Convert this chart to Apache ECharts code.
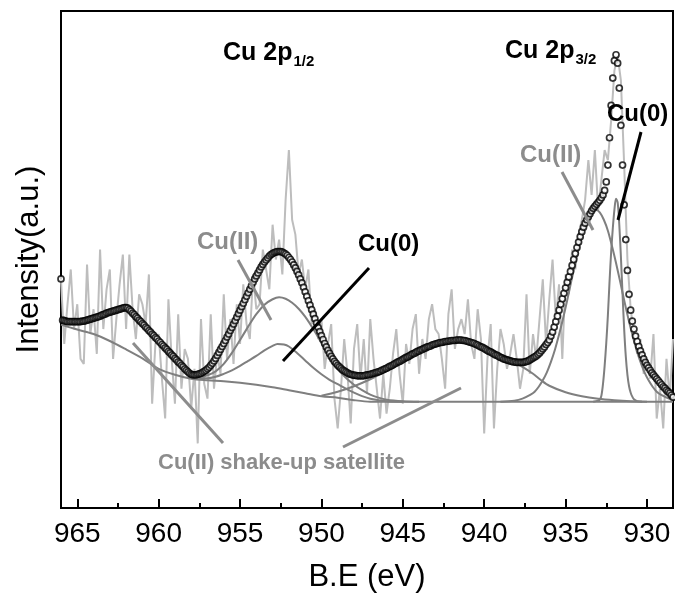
<!DOCTYPE html>
<html><head><meta charset="utf-8">
<script src="https://cdn.jsdelivr.net/npm/echarts@6/dist/echarts.min.js"></script>
<style>html,body{margin:0;padding:0;background:#fff}#c{width:675px;height:602px}</style>
</head><body><div id="c"></div>
<script>
// ---------- axis ticks ----------
const xMajorTicks = [930, 935, 940, 945, 950, 955, 960, 965];
const xMinorTicks = [932.5, 937.5, 942.5, 947.5, 952.5, 957.5, 962.5];

// ---------- raw spectrum (B.E. from 966.0 down, 0.2 eV step) ----------
const rawStart = 966.0, rawStep = 0.2;
const rawIntensity = [
  46,33,41,48,36,41, 30,29,49,35,40, 31,52,36,44,48, 30,38,45,51,36,
  51,40,34,43,41, 37,47,21,33,35, 26,18,42,30,21, 39,24,32,30,20,
  28,13,38,25,22, 39,24,
  31,27,43,30,38,29,41,33, 45,37,34,47,40,41,52,48,44,57,
  50,54,47,62,72,58,55,47,50,44, 48,37,40,34,38,28,33,37,22,16,
  24,34,27,17,32,37,26,34,23,38,
  30,24,18,27,19,24,31,36,27,21, 33,29,36,39,27,34,30,38,41,36,
  35,30,24,39,44,32,36,38,35,42, 33,30,40,34,15,30,37,16,28,36,
  33,28,31,35,30,24,
  28,43,27,35,30,38,46,33,42, 50,38,45,30,47, 43,52,48,55,58,
  62,70,63,72,60, 66,72,70,78,88, 91,86,69,50,40, 35,31,34,27,30,
  26,35,18,24,16, 30,22,34
];

// ---------- fitted envelope (B.E. from 966.0 down, 0.1 eV step) ----------
const fitStart = 966.0, fitStep = 0.1;
const fitEnvelope = [
  46.1,37.8,37.7,37.6,37.5,37.5,37.5,37.5,37.5,37.5,
  37.5,37.5,37.5,37.6,37.6,37.7,37.8,37.9,38.0,38.1,
  38.2,38.3,38.4,38.5,38.6,38.8,38.9,39.0,39.2,39.3,
  39.4,39.5,39.6,39.7,39.8,39.9,40.0,40.1,40.2,40.3,
  40.3,40.2,39.9,39.6,39.2,38.9,38.5,38.2,37.8,37.5,
  37.1,36.8,36.4,36.1,35.7,35.4,35.0,34.7,34.3,34.0,
  33.6,33.3,32.9,32.6,32.2,31.9,31.5,31.2,30.8,30.5,
  30.1,29.8,29.4,29.1,28.7,28.4,28.0,27.7,27.4,27.1,
  26.9,26.8,26.8,26.8,26.9,27.0,27.1,27.3,27.5,27.7,
  28.0,28.3,28.7,29.1,29.6,30.1,30.7,31.3,31.9,32.5,
  33.1,33.7,34.4,35.0,35.7,36.3,37.0,37.7,38.4,39.1,
  39.8,40.5,41.2,41.9,42.6,43.3,44.0,44.7,45.4,46.1,
  46.7,47.3,47.9,48.5,49.0,49.5,49.9,50.3,50.7,51.0,
  51.2,51.4,51.5,51.6,51.6,51.6,51.5,51.3,51.1,50.8,
  50.4,50.0,49.5,48.9,48.3,47.6,46.9,46.1,45.3,44.4,
  43.5,42.6,41.7,40.8,39.9,39.0,38.1,37.2,36.3,35.5,
  34.7,33.9,33.1,32.4,31.7,31.1,30.5,30.0,29.5,29.1,
  28.7,28.4,28.1,27.8,27.6,27.4,27.2,27.0,26.9,26.8,
  26.7,26.7,26.6,26.6,26.6,26.6,26.6,26.7,26.8,26.8,
  26.9,27.0,27.1,27.2,27.3,27.4,27.5,27.7,27.8,28.0,
  28.1,28.3,28.5,28.6,28.8,29.0,29.2,29.4,29.5,29.7,
  29.9,30.1,30.3,30.4,30.6,30.8,31.0,31.1,31.3,31.5,
  31.6,31.8,31.9,32.1,32.2,32.4,32.5,32.6,32.8,32.9,
  33.0,33.1,33.2,33.3,33.3,33.4,33.5,33.5,33.6,33.6,
  33.7,33.7,33.7,33.8,33.8,33.8,33.8,33.7,33.7,33.6,
  33.5,33.4,33.3,33.2,33.1,32.9,32.8,32.6,32.4,32.3,
  32.1,31.9,31.7,31.5,31.4,31.2,31.0,30.8,30.7,30.5,
  30.3,30.2,30.0,29.9,29.8,29.7,29.6,29.5,29.4,29.4,
  29.3,29.3,29.3,29.3,29.3,29.4,29.5,29.6,29.8,30.0,
  30.2,30.4,30.6,30.9,31.2,31.6,32.0,32.4,32.9,33.3,
  33.8,34.6,35.4,36.4,37.5,38.6,39.8,41.0,42.1,43.2,
  44.3,45.4,46.5,47.6,48.8,50.0,51.2,52.4,53.5,54.6,
  55.6,56.5,57.3,58.0,58.6,59.2,59.8,60.3,60.7,61.1,
  61.5,61.9,62.4,63.0,63.9,65.6,69.0,74.5,81.0,86.5,
  90.0,91.2,89.5,84.5,77.0,69.0,61.0,54.0,47.8,43.0,
  39.8,37.6,36.0,34.6,33.5,32.5,31.6,30.8,30.0,29.3,
  28.7,28.2,27.7,27.2,26.8,26.4,26.0,25.6,25.2,24.8,
  24.4,24.1,23.7,23.4,23.1,22.7,22.3
];

// ---------- fit components ----------
const bgBE  = [966.0,965.0,964.0,963.0,962.0,961.0,960.0,959.0,958.0,957.0,956.0,955.0,954.0,953.0,952.0,951.0,950.0,949.0,948.0,947.0,946.0,940.0,935.0,930.0,928.4];
const bgVal = [36.9,35.9,35.0,33.6,31.9,30.1,28.0,26.8,26.0,25.7,25.5,25.2,24.8,24.3,23.7,23.1,22.5,22.2,21.7,21.4,21.4,21.4,21.4,21.4,21.4];

const cu2p12IIBE  = [958.0,957.5,957.0,956.5,956.0,955.5,955.0,954.5,954.0,953.5,953.0,952.6,952.2,951.8,951.4,951.0,950.5,950.0,949.5,949.0,948.5,948.0,947.5,947.0,946.5,946.0,945.0,944.0];
const cu2p12IIVal = [26.1,26.3,26.7,27.5,29.0,31.2,33.8,36.5,39.0,40.9,42.0,42.4,42.1,41.3,40.1,38.5,36.0,33.2,30.3,28.0,26.2,24.8,23.7,22.8,22.2,21.8,21.5,21.4];

const cu2p12_0BE  = [958.0,957.0,956.5,956.0,955.5,955.0,954.5,954.0,953.5,953.0,952.7,952.3,952.0,951.5,951.0,950.5,950.0,949.5,949.0,948.5,948.0,947.5,947.0,946.0,945.0];
const cu2p12_0Val = [26.1,26.1,26.4,27.0,27.7,28.6,29.6,30.6,31.7,32.6,33.0,32.9,32.5,31.2,29.7,28.2,26.9,25.8,24.9,24.0,23.2,22.5,22.0,21.5,21.4];

const satBE  = [950.0,949.0,948.0,947.0,946.0,945.0,944.0,943.0,942.0,941.5,941.0,940.0,939.0,938.0,937.5,937.0,936.5,936.0,935.0,934.0,933.0,932.0,931.0,930.0];
const satVal = [22.6,23.4,24.5,25.9,27.6,29.4,31.2,32.7,33.6,33.8,33.6,32.3,30.5,29.0,28.1,27.0,25.7,24.6,23.3,22.5,22.0,21.7,21.5,21.4];

const cu2p32IIBE  = [939.0,938.15,937.65,937.15,936.9,936.65,936.4,936.15,935.9,935.65,935.4,935.15,934.9,934.65,934.4,934.15,933.9,933.65,933.4,933.15,932.9,932.65,932.4,932.15,931.9,931.65,931.4,931.15,930.9,930.65,930.4,930.15,929.9,929.65,929.4,929.15,928.65,928.4];
const cu2p32IIVal = [21.4,21.6,22.0,22.8,23.4,24.4,25.7,27.3,29.4,31.9,34.9,38.2,41.8,45.6,49.3,52.7,55.8,58.0,59.5,60.0,59.5,58.0,55.8,52.7,49.3,45.6,41.8,38.2,34.9,31.9,29.4,27.3,25.7,24.4,23.4,22.8,22.0,21.8];

const cu2p32_0BE  = [933.3,933.0,932.9,932.8,932.7,932.6,932.5,932.4,932.3,932.2,932.1,932.0,931.9,931.8,931.7,931.6,931.5,931.4,931.3,931.2,931.1,931.0,930.9,930.8,930.6,930.3];
const cu2p32_0Val = [21.4,21.6,21.8,22.6,25.0,28.6,33.2,38.8,45.5,51.5,56.2,60.0,62.2,61.5,57.0,50.5,43.0,36.0,30.5,26.8,24.5,23.2,22.4,21.9,21.5,21.4];

// ---------- build ----------
const FONT = "'Liberation Sans', Arial, Helvetica, sans-serif";
const r1 = v => Math.round(v * 100) / 100;
const rawData = rawIntensity.map((v, i) => [r1(rawStart - i * rawStep), v]);
const fitData = fitEnvelope.map((v, i) => [r1(fitStart - i * fitStep), v]);
const zip = (a, b) => a.map((x, i) => [x, b[i]]);

const compStyle = { color: '#7f7f7f', width: 2 };
function comp(be, val) {
  return { type: 'line', data: zip(be, val), smooth: 0.3, showSymbol: false, silent: true,
           lineStyle: compStyle, z: 3 };
}

const chart = echarts.init(document.getElementById('c'), null, { renderer: 'canvas' });

const cv = document.createElement('canvas').getContext('2d');
function tw(text, size) { cv.font = 'bold ' + size + 'px ' + FONT; return cv.measureText(text).width; }

function txt(x, y, text, size, color) {
  return { type: 'text', x: x, y: y, z: 100,
           style: { text: text, fontSize: size, fontWeight: 'bold', fontFamily: FONT, fill: color,
                    align: 'left', verticalAlign: 'middle' } };
}
function seg(x1, y1, x2, y2, color) {
  return { type: 'line', z: 99, shape: { x1: x1, y1: y1, x2: x2, y2: y2 },
           style: { stroke: color, lineWidth: 3 } };
}
const GRAY = '#8c8c8c';
const graphics = [
  txt(223, 53, 'Cu 2p', 25, '#000'),
  txt(223 + tw('Cu 2p', 25) + 1, 62, '1/2', 15, '#000'),
  txt(505, 51, 'Cu 2p', 25, '#000'),
  txt(505 + tw('Cu 2p', 25) + 1, 60, '3/2', 15, '#000'),
  txt(607, 114, 'Cu(0)', 24, '#000'),
  txt(520, 155, 'Cu(II)', 24, GRAY),
  txt(197, 242, 'Cu(II)', 24, GRAY),
  txt(358, 244, 'Cu(0)', 24, '#000'),
  txt(158, 463, 'Cu(II) shake-up satellite', 22, GRAY),
  seg(562, 172, 593, 230, GRAY),
  seg(641, 132, 618, 220, '#000'),
  seg(238, 260, 271, 320, GRAY),
  seg(369, 268, 283, 361, '#000'),
  seg(133, 343, 223, 443, GRAY),
  seg(343, 447, 461, 388, GRAY)
];

const option = {
  animation: false,
  backgroundColor: '#fff',
  grid: { left: 61, right: 2, top: 11, bottom: 94, show: true, borderColor: '#000', borderWidth: 2,
          backgroundColor: 'transparent' },
  xAxis: [{
    type: 'value', min: 928.4, max: 966, inverse: true,
    axisLine: { show: true, lineStyle: { color: '#000', width: 2 } },
    axisTick: { show: true, inside: true, length: 9, lineStyle: { color: '#000', width: 2 }, customValues: xMajorTicks },
    axisLabel: { customValues: xMajorTicks, fontSize: 28, color: '#000', margin: 12, fontFamily: FONT },
    splitLine: { show: false },
    name: 'B.E (eV)', nameLocation: 'middle', nameGap: 54,
    nameTextStyle: { fontSize: 31, color: '#000', fontFamily: FONT }
  }, {
    type: 'value', min: 928.4, max: 966, inverse: true, position: 'bottom', gridIndex: 0,
    axisLine: { show: false }, axisLabel: { show: false }, splitLine: { show: false },
    axisTick: { show: true, inside: true, length: 5, lineStyle: { color: '#000', width: 2 }, customValues: xMinorTicks }
  }],
  yAxis: {
    type: 'value', min: 0, max: 100,
    axisLine: { show: true, lineStyle: { color: '#000', width: 2 } },
    axisTick: { show: false }, axisLabel: { show: false }, splitLine: { show: false },
    name: 'Intensity(a.u.)', nameLocation: 'middle', nameGap: 16,
    nameTextStyle: { fontSize: 31, color: '#000', fontFamily: FONT }
  },
  series: [
    { type: 'line', data: rawData, showSymbol: false, silent: true,
      lineStyle: { color: '#bdbdbd', width: 2 }, z: 1 },
    comp(bgBE, bgVal),
    comp(cu2p12IIBE, cu2p12IIVal),
    comp(cu2p12_0BE, cu2p12_0Val),
    comp(satBE, satVal),
    comp(cu2p32IIBE, cu2p32IIVal),
    comp(cu2p32_0BE, cu2p32_0Val),
    { type: 'scatter', data: fitData, symbol: 'circle', symbolSize: 6, silent: true,
      itemStyle: { color: '#fff', borderColor: '#000', borderWidth: 1.7 }, z: 5 }
  ],
  graphic: graphics
};
chart.setOption(option);
</script></body></html>
